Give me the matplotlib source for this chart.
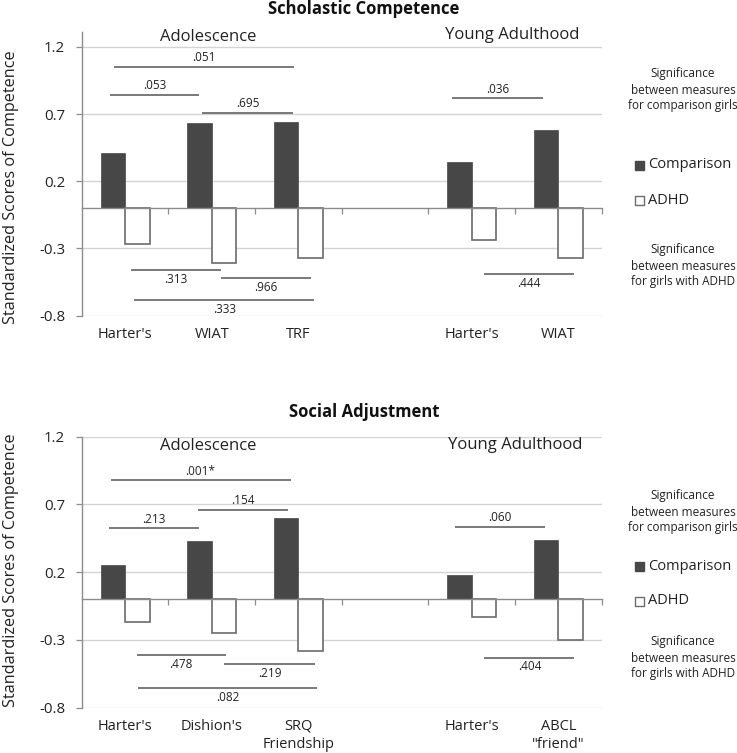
import numpy as np
import matplotlib
matplotlib.use("Agg")
import matplotlib.pyplot as plt
from matplotlib.patches import Rectangle
import matplotlib.transforms as mtransforms

plt.rcParams['font.family'] = ['Open Sans', 'DejaVu Sans']

# ---------------- data ----------------
top_categories = ["Harter's", "WIAT", "TRF", "", "Harter's", "WIAT"]
top_comparison = [0.41, 0.63, 0.64, np.nan, 0.34, 0.58]
top_adhd = [-0.27, -0.41, -0.37, np.nan, -0.24, -0.37]
# significance brackets: (label, y, x_start, x_end) in category units
top_sig_labels = [".051", ".053", ".695", ".313", ".966", ".333", ".036", ".444"]
top_sig_y = [1.05, 0.84, 0.71, -0.463, -0.52, -0.686, 0.817, -0.488]
top_sig_x0 = [0.376, 0.327, 1.392, 0.569, 1.604, 0.607, 4.276, 4.642]
top_sig_x1 = [2.45, 1.357, 2.434, 1.604, 2.646, 2.684, 5.319, 5.68]
top_sig_above = [True, True, True, False, False, False, True, False]

bot_categories = ["Harter's", "Dishion's", "SRQ\nFriendship", "", "Harter's", "ABCL\n\"friend\""]
bot_comparison = [0.25, 0.43, 0.60, np.nan, 0.18, 0.44]
bot_adhd = [-0.17, -0.25, -0.38, np.nan, -0.13, -0.30]
bot_sig_labels = [".001*", ".154", ".213", ".478", ".219", ".082", ".060", ".404"]
bot_sig_y = [0.877, 0.66, 0.524, -0.411, -0.48, -0.653, 0.536, -0.431]
bot_sig_x0 = [0.334, 1.338, 0.318, 0.634, 1.646, 0.653, 4.307, 4.646]
bot_sig_x1 = [2.41, 2.377, 1.35, 1.661, 2.692, 2.718, 5.346, 5.684]
bot_sig_above = [True, True, True, False, False, False, True, False]

y_ticks = [-0.8, -0.3, 0.2, 0.7, 1.2]
series_names = ["Comparison", "ADHD"]

DARK = "#474747"
EDGE = "#6b6b6b"
GRID = "#d4d4d4"
AXIS = "#8c8c8c"
SIGC = "#555555"

fig = plt.figure(figsize=(7.37, 7.53), dpi=100)


def draw_panel(ax, cats, comp, adhd, labels, ys, x0s, x1s, above, ytop, label_y):
    n = len(cats)
    centers = np.arange(n) + 0.5
    w = 0.283
    ax.bar(centers - w / 2, comp, width=w, color=DARK, edgecolor=DARK, linewidth=0.5, zorder=3)
    ax.bar(centers + w / 2, adhd, width=w, color="white", edgecolor=EDGE, linewidth=1.2, zorder=3)
    ax.set_xlim(0, n)
    ax.set_ylim(-0.8, ytop)
    ax.set_yticks(y_ticks)
    ax.set_yticklabels([f"{v:.1f}" for v in y_ticks], fontsize=10.8, color="#222222")
    ax.yaxis.grid(True, color=GRID, linewidth=1.0, zorder=0)
    ax.set_axisbelow(True)
    ax.tick_params(axis='y', length=4, color=AXIS, width=0.9, pad=8)
    for s in ["top", "right"]:
        ax.spines[s].set_visible(False)
    ax.spines["left"].set_color(AXIS)
    ax.spines["left"].set_linewidth(1.0)
    ax.spines["bottom"].set_position(("data", 0))
    ax.spines["bottom"].set_color(AXIS)
    ax.spines["bottom"].set_linewidth(1.0)
    ax.spines["bottom"].set_zorder(4)
    ax.set_xticks(np.arange(1, n + 1))
    ax.set_xticklabels([])
    ax.tick_params(axis='x', length=4, direction='out', color=AXIS, width=0.9)
    trans = mtransforms.blended_transform_factory(ax.transData, ax.transAxes)
    for c, lab in zip(centers, cats):
        ax.annotate(lab, xy=(c, 0), xycoords=trans, xytext=(0, -8),
                    textcoords="offset points", ha="center", va="top",
                    fontsize=10.5, color="#222222", linespacing=1.3)
    for lab, y, a, b, ab in zip(labels, ys, x0s, x1s, above):
        ax.plot([a, b], [y, y], color=SIGC, linewidth=1.1, zorder=5, solid_capstyle="butt")
        xm = (a + b) / 2
        if ab:
            ax.annotate(lab, xy=(xm, y), xytext=(0, 2), textcoords="offset points",
                        ha="center", va="bottom", fontsize=8.5, color="#222222")
        else:
            ax.annotate(lab, xy=(xm, y), xytext=(0, -2), textcoords="offset points",
                        ha="center", va="top", fontsize=8.5, color="#222222")
    ax.set_ylabel("Standardized Scores of Competence", fontsize=11.7, color="#222222")
    ax.yaxis.set_label_coords(-0.121, label_y)


# top panel
ax1 = fig.add_axes([81.7 / 737, 1 - 315.7 / 753, 520 / 737, (315.7 - 32) / 753])
draw_panel(ax1, top_categories, top_comparison, top_adhd, top_sig_labels, top_sig_y,
           top_sig_x0, top_sig_x1, top_sig_above, 1.31, 0.4536)
ax1.text(1.46, 1.275, "Adolescence", ha="center", va="center", fontsize=12, color="#222222")
ax1.text(4.97, 1.285, "Young Adulthood", ha="center", va="center", fontsize=12, color="#222222")

# bottom panel
ax2 = fig.add_axes([81.7 / 737, 1 - 707.7 / 753, 520 / 737, 271 / 753])
draw_panel(ax2, bot_categories, bot_comparison, bot_adhd, bot_sig_labels, bot_sig_y,
           bot_sig_x0, bot_sig_x1, bot_sig_above, 1.2, 0.506)
ax2.text(1.454, 1.134, "Adolescence", ha="center", va="center", fontsize=12, color="#222222")
ax2.text(5.0, 1.139, "Young Adulthood", ha="center", va="center", fontsize=12, color="#222222")

# titles
fig.text(364 / 737, 1 - 9 / 753, "Scholastic Competence", ha="center", va="center",
         fontsize=12, fontweight="bold", color="#111111")
fig.text(364 / 737, 1 - 412 / 753, "Social Adjustment", ha="center", va="center",
         fontsize=12, fontweight="bold", color="#111111")


# right-hand notes and legend for each panel
def side_notes(y_sig1, y_comp, y_adhd, y_sig2):
    fig.text(683 / 737, 1 - y_sig1 / 753,
             "Significance\nbetween measures\nfor comparison girls",
             ha="center", va="center", fontsize=8.5, color="#222222", linespacing=1.3)
    fig.text(683 / 737, 1 - y_sig2 / 753,
             "Significance\nbetween measures\nfor girls with ADHD",
             ha="center", va="center", fontsize=8.5, color="#222222", linespacing=1.3)
    for yy, name, fc, ec in [(y_comp, series_names[0], DARK, DARK),
                             (y_adhd, series_names[1], "white", EDGE)]:
        fig.patches.append(Rectangle((635 / 737, 1 - (yy + 4.5) / 753), 9 / 737, 9 / 753,
                                     transform=fig.transFigure, facecolor=fc,
                                     edgecolor=ec, linewidth=1.0))
        fig.text(648 / 737, 1 - yy / 753, name, ha="left", va="center",
                 fontsize=10.5, color="#222222")


side_notes(90, 165, 200, 266)
side_notes(512, 566, 601, 658)

fig.savefig("out.png", dpi=100)
